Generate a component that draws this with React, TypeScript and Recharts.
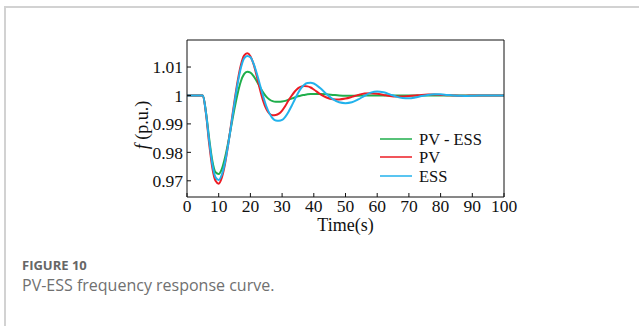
import { LineChart, Line, XAxis, YAxis } from "recharts";

const times = [
  0, 5, 6, 7, 8, 9, 10, 11, 12, 13, 14, 15, 16, 17, 18, 19, 20, 21, 22, 23, 24, 25, 26, 27, 28, 29, 30,
  31, 32, 33, 34, 35, 36, 37, 38, 39, 40, 42, 44, 46, 48, 50, 52, 54, 56, 58, 60, 62, 64, 66, 68, 70,
  72, 74, 76, 78, 80, 82, 84, 86, 88, 90, 92, 94, 96, 98, 100,
];

const pvEss = [
  1, 1, 0.994, 0.9848, 0.977, 0.973, 0.9724, 0.9742, 0.9782, 0.9835, 0.9895, 0.9955, 1.0008, 1.005,
  1.0075, 1.0083, 1.008, 1.0068, 1.005, 1.003, 1.0011, 0.9996, 0.9986, 0.998, 0.9978, 0.9978, 0.9979,
  0.9981, 0.9985, 0.9989, 0.9993, 0.9997, 1.0, 1.0002, 1.0004, 1.0005, 1.0005, 1.0005, 1.0004, 1.0002,
  1.0, 0.9999, 0.9999, 0.9999, 1.0, 1.0, 1.0, 1.0, 1.0, 1.0, 1.0, 1.0, 1.0, 1.0, 1.0, 1.0, 1.0, 1.0,
  1.0, 1.0, 1.0, 1.0, 1.0, 1.0, 1.0, 1.0, 1.0,
];

const pv = [
  1, 1, 0.9935, 0.983, 0.9745, 0.97, 0.969, 0.9712, 0.976, 0.9828, 0.9905, 0.9982, 1.0052, 1.0107,
  1.014, 1.0148, 1.0138, 1.011, 1.0068, 1.0022, 0.9982, 0.9953, 0.9936, 0.993, 0.9931, 0.9936, 0.9947,
  0.9963, 0.9982, 0.9999, 1.0014, 1.0025, 1.0031, 1.0033, 1.0032, 1.0028, 1.0021, 1.0005, 0.9993,
  0.9987, 0.9986, 0.9989, 0.9995, 1.0002, 1.0007, 1.0008, 1.0006, 1.0002, 0.9998, 0.9996, 0.9996,
  0.9998, 1.0, 1.0002, 1.0003, 1.0003, 1.0002, 1.0001, 1.0, 0.9999, 0.9999, 1.0, 1.0, 1.0, 1.0, 1.0, 1.0,
];

const ess = [
  1, 1, 0.9938, 0.984, 0.9758, 0.9712, 0.9703, 0.9722, 0.9765, 0.9828, 0.99, 0.9975, 1.0043, 1.0097,
  1.013, 1.0139, 1.0134, 1.0112, 1.0078, 1.0038, 0.9998, 0.9963, 0.9937, 0.992, 0.9912, 0.9911, 0.9914,
  0.9925, 0.9942, 0.9963, 0.9986, 1.0008, 1.0026, 1.0038, 1.0044, 1.0045, 1.0042, 1.0026, 1.0005,
  0.9987, 0.9976, 0.9973, 0.9976, 0.9986, 0.9999, 1.001, 1.0014, 1.0011, 1.0004, 0.9996, 0.9991, 0.999,
  0.9993, 0.9998, 1.0002, 1.0004, 1.0004, 1.0002, 1.0, 0.9999, 0.9998, 0.9999, 1.0, 1.0, 1.0, 1.0, 1.0,
];

const xTicks = [0, 10, 20, 30, 40, 50, 60, 70, 80, 90, 100];
const yTicks = [0.97, 0.98, 0.99, 1, 1.01];

const series = [
  { key: "pvEss", name: "PV - ESS", color: "#1fae4b" },
  { key: "pv", name: "PV", color: "#ec1c24" },
  { key: "ess", name: "ESS", color: "#22b2ec" },
];

const data = times.map((t, i) => ({ t, pvEss: pvEss[i], pv: pv[i], ess: ess[i] }));

const serif = "'Liberation Serif', 'Times New Roman', serif";
const tickStyle = { fill: "#111", fontSize: 17.5, fontFamily: serif };

function YTitle() {
  return (
    <text
      x={0}
      y={0}
      transform="translate(148 125) rotate(-90)"
      textAnchor="middle"
      fontFamily={serif}
      fontSize={18}
      fill="#111"
    >
      <tspan fontStyle="italic">f</tspan>
      <tspan> (p.u.)</tspan>
    </text>
  );
}

export default function App() {
  return (
    <div style={{ position: "relative", width: 639, height: 326, overflow: "hidden", background: "#fff" }}>
      <style>{`body{margin:0}`}</style>
      <div
        style={{
          position: "absolute",
          left: 4,
          top: 6,
          width: 700,
          height: 400,
          border: "2px solid #d2d2d2",
          boxSizing: "border-box",
        }}
      />
      <div style={{ position: "absolute", left: 0, top: 0 }}>
        <LineChart width={639} height={240} data={data} margin={{ top: 39, right: 134, left: 127, bottom: 9 }}>
          <XAxis
            dataKey="t"
            type="number"
            domain={[0, 100]}
            ticks={xTicks}
            allowDataOverflow
            stroke="#111"
            tick={tickStyle}
            tickSize={-4}
            tickMargin={7}
            height={34}
            interval={0}
            label={{ value: "Time(s)", position: "insideBottom", offset: 0, fill: "#111", fontSize: 18, fontFamily: serif }}
          />
          <XAxis
            xAxisId="top"
            dataKey="t"
            type="number"
            orientation="top"
            domain={[0, 100]}
            ticks={xTicks}
            allowDataOverflow
            stroke="#111"
            tick={false}
            tickSize={-4}
            height={1}
            interval={0}
          />
          <YAxis
            type="number"
            domain={[0.9643, 1.0195]}
            ticks={yTicks}
            allowDataOverflow
            stroke="#111"
            tick={tickStyle}
            tickSize={-4}
            tickMargin={8}
            width={60}
            interval={0}
            label={<YTitle />}
          />
          <YAxis
            yAxisId="right"
            type="number"
            orientation="right"
            domain={[0.9643, 1.0195]}
            ticks={yTicks}
            allowDataOverflow
            stroke="#111"
            tick={false}
            tickSize={-4}
            width={1}
            interval={0}
          />
          {series.map((s) => (
            <Line
              key={s.key}
              dataKey={s.key}
              name={s.name}
              type="monotone"
              stroke={s.color}
              strokeWidth={2}
              dot={false}
              activeDot={false}
              isAnimationActive={false}
            />
          ))}
        </LineChart>
      </div>
      <svg style={{ position: "absolute", left: 375, top: 126 }} width={130} height={62}>
        {series.map((s, i) => {
          const y = [13, 31, 50][i];
          return (
            <g key={s.key}>
              <line x1={5} x2={37} y1={y} y2={y} stroke={s.color} strokeWidth={1.5} />
              <text x={44} y={y + 6} fontFamily={serif} fontSize={16.5} fill="#111">
                {s.name}
              </text>
            </g>
          );
        })}
      </svg>
      <div
        style={{
          position: "absolute",
          left: 22,
          top: 258,
          fontFamily: "'Open Sans', sans-serif",
          fontWeight: 700,
          fontSize: 13,
          color: "#666",
          lineHeight: "15px",
        }}
      >
        FIGURE 10
      </div>
      <div
        style={{
          position: "absolute",
          left: 22,
          top: 275,
          fontFamily: "'Open Sans', sans-serif",
          fontSize: 16,
          color: "#707070",
          lineHeight: "20px",
        }}
      >
        PV-ESS frequency response curve.
      </div>
    </div>
  );
}
